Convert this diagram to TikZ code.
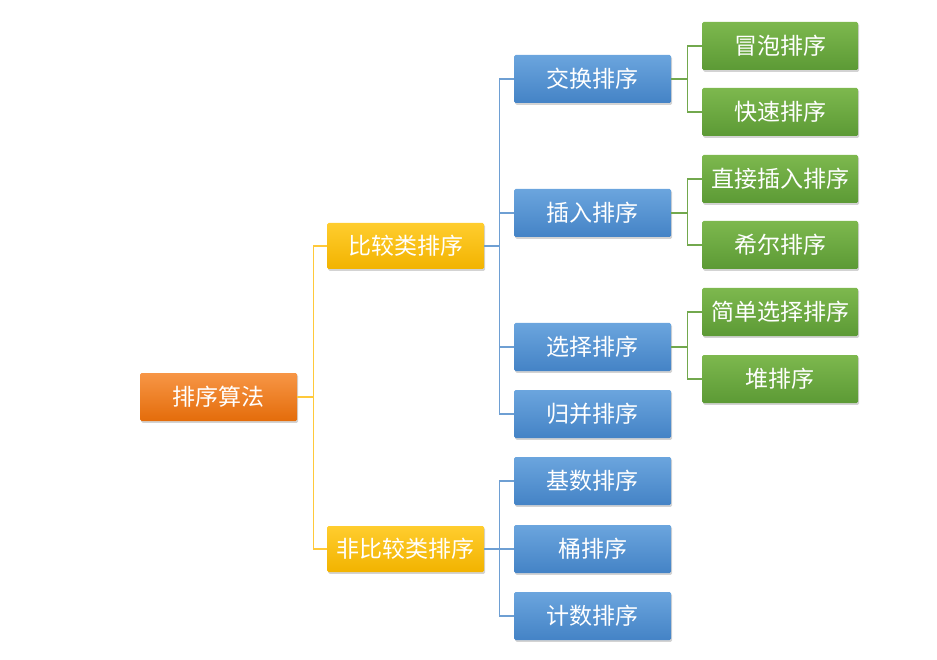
\documentclass[tikz,border=0pt]{standalone}
\usepackage{fontspec}
\setmainfont{Noto Sans CJK SC}
\usepackage{tikz}
\usetikzlibrary{shadows}
\definecolor{OrangeT}{HTML}{F79646}
\definecolor{OrangeB}{HTML}{E46C0A}
\definecolor{GoldT}{HTML}{FFCD2E}
\definecolor{GoldB}{HTML}{F2B300}
\definecolor{BlueT}{HTML}{6BA5DE}
\definecolor{BlueB}{HTML}{4483C6}
\definecolor{GreenT}{HTML}{7DB84E}
\definecolor{GreenB}{HTML}{5C9A35}
\definecolor{GoldLine}{HTML}{FFC93A}
\definecolor{BlueLine}{HTML}{6E9FD3}
\definecolor{GreenLine}{HTML}{72A84D}

\begin{document}
\begin{tikzpicture}[x=1pt,y=-1pt,
      box/.style={rounded corners=1.5pt,minimum width=157pt,minimum height=48pt,
        inner sep=0pt,text=white,font=\fontsize{23}{25}\selectfont,
        drop shadow={shadow xshift=1.2pt,shadow yshift=-1.8pt,opacity=0.35}},
      rootbox/.style={box,top color=OrangeT,bottom color=OrangeB},
      catbox/.style={box,top color=GoldT,bottom color=GoldB,minimum height=46pt},
      algobox/.style={box,top color=BlueT,bottom color=BlueB},
      leafbox/.style={box,top color=GreenT,bottom color=GreenB,minimum width=156pt},
      ylink/.style={draw=GoldLine,line width=1.2pt},
      blink/.style={draw=BlueLine,line width=1.2pt},
      glink/.style={draw=GreenLine,line width=1.2pt}
    ]
      \useasboundingbox (0,0) rectangle (937,660);
      % root and categories
      \node[rootbox] (root) at (218.5,397) {排序算法};
      \node[catbox] (cmp) at (405.5,246) {比较类排序};
      \node[catbox] (ncmp) at (405.5,549) {非比较类排序};
      % algorithms
      \node[algobox] (swap) at (592.5,79) {交换排序};
      \node[algobox] (ins) at (592.5,213) {插入排序};
      \node[algobox] (sel) at (592.5,347) {选择排序};
      \node[algobox] (merge) at (592.5,414) {归并排序};
      \node[algobox] (radix) at (592.5,481) {基数排序};
      \node[algobox] (bucket) at (592.5,549) {桶排序};
      \node[algobox] (count) at (592.5,616) {计数排序};
      % variants
      \node[leafbox] (bubble) at (780,46) {冒泡排序};
      \node[leafbox] (quick) at (780,112) {快速排序};
      \node[leafbox] (direct) at (780,179) {直接插入排序};
      \node[leafbox] (shell) at (780,245) {希尔排序};
      \node[leafbox] (simple) at (780,312) {简单选择排序};
      \node[leafbox] (heap) at (780,379) {堆排序};

      \foreach \c in {cmp,ncmp}
        \draw[ylink] (root.east) -- ++(16,0) |- (\c.west);
      \foreach \a in {swap,ins,sel,merge}
        \draw[blink] (cmp.east) -- ++(15,0) |- (\a.west);
      \foreach \a in {radix,bucket,count}
        \draw[blink] (ncmp.east) -- ++(15,0) |- (\a.west);
      \foreach \p/\l in {swap/bubble,swap/quick,ins/direct,ins/shell,sel/simple,sel/heap}
        \draw[glink] (\p.east) -- ++(16,0) |- (\l.west);
\end{tikzpicture}
\end{document}
